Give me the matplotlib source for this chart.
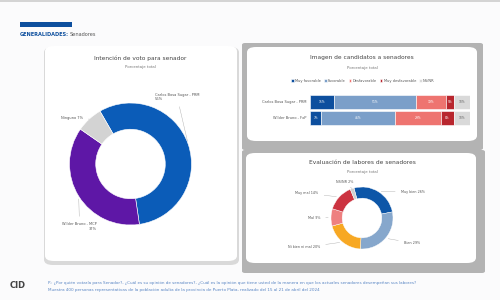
import matplotlib.pyplot as plt
from matplotlib.patches import FancyBboxPatch, Rectangle
import numpy as np

# datos
voto_labels = ['Carlos Bosa Sugar - PRM\n56%', 'Wilder Bruno - MCP\n37%', 'Ninguno 7%']
voto_vals = [56, 37, 7]
voto_colors = ['#0b5cb8', '#5e17a6', '#d3d3d3']

cand_names = ['Carlos Bosa Sugar - PRM', 'Wilder Bruno - FxP']
img_cats = ['Muy favorable', 'Favorable', 'Desfavorable', 'Muy desfavorable', 'NS/NR']
img_vals = [[15, 51, 19, 5, 10],
            [7, 46, 29, 8, 10]]
img_colors = ['#0d4f9e', '#7b9fc9', '#ee7470', '#b8262e', '#d9d9d9']

eval_labels = ['Muy bien 26%', 'Bien 29%', 'Ni bien ni mal 20%', 'Mal 9%', 'Muy mal 14%', 'NS/NR 2%']
eval_vals = [26, 29, 20, 9, 14, 2]
eval_colors = ['#0d56a8', '#86a7cc', '#f7a823', '#ee8080', '#cc3340', '#cfcfcf']

W, H = 500, 300
fig = plt.figure(figsize=(5, 3), dpi=100)
fig.patch.set_facecolor('#fbfbfc')


def box(x, y, w, h):
    # pixel box (desde arriba) -> coords de figura
    return [x / W, 1 - (y + h) / H, w / W, h / H]


def card(x, y, w, h, fc, r=8):
    p = FancyBboxPatch((x / W, 1 - (y + h) / H), w / W, h / H,
                       boxstyle=f'round,pad=0,rounding_size={r / W}',
                       transform=fig.transFigure, fc=fc, ec='none', zorder=-2)
    fig.patches.append(p)


def ftext(x, y, s, **kw):
    fig.text(x / W, 1 - y / H, s, **kw)


# franja superior
fig.patches.append(Rectangle((0, 1 - 2 / H), 1, 2 / H, transform=fig.transFigure,
                             fc='#d4d4d4', ec='none', zorder=-2))

# encabezado
fig.patches.append(Rectangle((20 / W, 1 - 27 / H), 52 / W, 5 / H, transform=fig.transFigure,
                             fc='#0d4f9e', ec='none', zorder=-2))
ftext(20, 34, 'GENERALIDADES:', fontsize=3.6, color='#0d4f9e', fontweight='bold', va='center')
ftext(70, 34, 'Senadores', fontsize=3.6, color='#555555', va='center')

# tarjetas
card(44, 47, 195, 218, '#d9d9d9', r=9)
card(45, 46, 192, 215, 'white', r=9)
card(242, 43, 241, 107, '#b3b3b3', r=3)
card(247, 47, 230, 94, 'white', r=9)
card(242, 150, 243, 123, '#b3b3b3', r=3)
card(246, 153, 230, 110, 'white', r=9)

# titulos
ftext(140, 58, 'Intención de voto para senador', fontsize=4.2, color='#444444', ha='center', va='center')
ftext(140, 67, 'Porcentaje total', fontsize=2.8, color='#777777', ha='center', va='center')
ftext(362, 58, 'Imagen de candidatos a senadores', fontsize=4.2, color='#444444', ha='center', va='center')
ftext(362, 68, 'Porcentaje total', fontsize=2.8, color='#777777', ha='center', va='center')
ftext(362, 163, 'Evaluación de labores de senadores', fontsize=4.2, color='#444444', ha='center', va='center')
ftext(362, 172, 'Porcentaje total', fontsize=2.8, color='#777777', ha='center', va='center')

# dona izquierda
cx, cy, r = 130.5, 164, 61
ax1 = fig.add_axes(box(cx - r, cy - r, 2 * r, 2 * r))
ax1.patch.set_alpha(0)
wedges, _ = ax1.pie(voto_vals, colors=voto_colors, startangle=120, counterclock=False,
                    radius=1, wedgeprops=dict(width=0.43, edgecolor='white', linewidth=0.4))
ax1.set_xlim(-1, 1)
ax1.set_ylim(-1, 1)
ax1.axis('off')
lab_pos = [(0.40, 1.10, 'left'), (-0.55, -1.02, 'right'), (-0.78, 0.75, 'right')]
for w, (lx, ly, ha), lab in zip(wedges, lab_pos, voto_labels):
    ang = np.deg2rad((w.theta1 + w.theta2) / 2)
    px, py = np.cos(ang), np.sin(ang)
    ax1.annotate(lab, xy=(px, py), xytext=(lx, ly), fontsize=2.6, color='#555555',
                 ha=ha, va='center', annotation_clip=False,
                 arrowprops=dict(arrowstyle='-', color='#aaaaaa', lw=0.3))

# barras
ax2 = fig.add_axes(box(310, 94, 160, 32))
ax2.patch.set_alpha(0)
left = np.zeros(len(cand_names))
y = np.arange(len(cand_names))
vals = np.array(img_vals)
for j, cat in enumerate(img_cats):
    ax2.barh(y, vals[:, j], left=left, height=0.82, color=img_colors[j],
             edgecolor='white', linewidth=0.4, label=cat)
    for i in range(len(cand_names)):
        if vals[i, j] >= 5:
            ax2.text(left[i] + vals[i, j] / 2, y[i], f'{vals[i, j]}%', fontsize=2.2,
                     color='white' if j < 4 else '#666666', ha='center', va='center')
    left += vals[:, j]
ax2.set_xlim(0, 100)
ax2.set_ylim(1.5, -0.5)
ax2.axis('off')
for i, n in enumerate(cand_names):
    ax2.text(-2, y[i], n, fontsize=2.6, color='#555555', ha='right', va='center')
ax2.legend(loc='lower center', bbox_to_anchor=(0.33, 1.25), ncol=5, frameon=False,
           fontsize=2.6, handlelength=0.8, handleheight=0.8, columnspacing=0.8,
           handletextpad=0.3, labelcolor='#555555')

# dona derecha
cx, cy, r = 362, 218, 31
ax3 = fig.add_axes(box(cx - r, cy - r, 2 * r, 2 * r))
ax3.patch.set_alpha(0)
wedges, _ = ax3.pie(eval_vals, colors=eval_colors, startangle=105, counterclock=False,
                    radius=1, wedgeprops=dict(width=0.36, edgecolor='white', linewidth=0.3))
ax3.set_xlim(-1, 1)
ax3.set_ylim(-1, 1)
ax3.axis('off')
lab_pos = [(1.25, 0.85, 'left'), (1.35, -0.80, 'left'), (-1.35, -0.95, 'right'),
           (-1.35, 0.0, 'right'), (-1.40, 0.80, 'right'), (-0.55, 1.15, 'center')]
for w, (lx, ly, ha), lab in zip(wedges, lab_pos, eval_labels):
    ang = np.deg2rad((w.theta1 + w.theta2) / 2)
    px, py = np.cos(ang), np.sin(ang)
    ax3.annotate(lab, xy=(px, py), xytext=(lx, ly), fontsize=2.4, color='#555555',
                 ha=ha, va='center', annotation_clip=False,
                 arrowprops=dict(arrowstyle='-', color='#aaaaaa', lw=0.3))

# pie de pagina
ftext(10, 286, 'CID', fontsize=6, color='#444444', fontweight='bold', va='center')
ftext(48, 283, 'P.: ¿Por quién votaría para Senador?, ¿Cuál es su opinión de senadores?, ¿Cuál es la opinión que tiene usted de la manera en que los actuales senadores desempeñan sus labores?',
      fontsize=2.95, color='#5a86c4', va='center')
ftext(48, 290, 'Muestra 400 personas representativas de la población adulta de la provincia de Puerto Plata, realizado del 15 al 21 de abril del 2024',
      fontsize=2.95, color='#5a86c4', va='center')

fig.savefig('out.png', dpi=100, facecolor=fig.get_facecolor())
